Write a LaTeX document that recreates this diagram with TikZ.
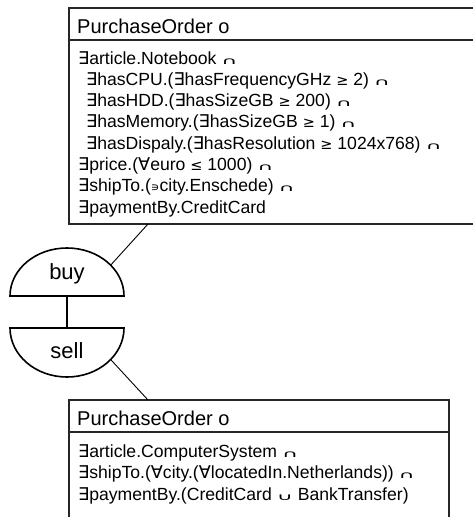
\documentclass[tikz,border=0pt]{standalone}
\usepackage{fontspec}
\usetikzlibrary{calc}
\setmainfont{Liberation Sans}
\newfontfamily\symf{DejaVu Sans}
\newcommand\myEx{{\symf ∃}}
\newcommand\myAll{{\symf ∀}}
\newcommand\myNi{{\symf\fontsize{12}{12}\selectfont ∍}}
\newcommand\myCap{\scalebox{1.25}[0.55]{\symf ∩}}
\newcommand\myCup{\scalebox{1.25}[0.55]{\symf ∪}}
\newcommand\myGe{{\symf\fontsize{14.5}{14.5}\selectfont ≥}}
\newcommand\myLe{{\symf\fontsize{14.5}{14.5}\selectfont ≤}}
\tikzset{
  boxline/.style={line width=1.3pt, black!85},
  shapeline/.style={line width=1.6pt},
  conn/.style={line width=0.9pt},
  head/.style={inner sep=0pt, anchor=base west, font=\fontsize{20}{24}\selectfont},
  body/.style={inner sep=0pt, anchor=base west, font=\fontsize{17.6}{21}\selectfont},
  lbl/.style={inner sep=0pt, anchor=base, font=\fontsize{22}{26}\selectfont},
}
\begin{document}
\begin{tikzpicture}[x=1pt,y=1pt]
\useasboundingbox (0,0) rectangle (473,-517);
\clip (0,0) rectangle (473,-517);
% top box
\draw[boxline] (69,-8) rectangle (490,-224);
\draw[boxline] (69,-40) -- (490,-40);
\node[head] (th) at (77,-33) {PurchaseOrder o};
\node[body] (t1) at (78,-64) {\myEx article.Notebook \myCap};
\node[body] (t2) at (86,-85.3) {\myEx hasCPU.(\myEx hasFrequencyGHz \myGe{} 2) \myCap};
\node[body] (t3) at (86,-106.6) {\myEx hasHDD.(\myEx hasSizeGB \myGe{} 200) \myCap};
\node[body] (t4) at (86,-127.9) {\myEx hasMemory.(\myEx hasSizeGB \myGe{} 1) \myCap};
\node[body] (t5) at (86,-149.2) {\myEx hasDispaly.(\myEx hasResolution \myGe{} 1024x768) \myCap};
\node[body] (t6) at (78,-170.5) {\myEx price.(\myAll euro \myLe{} 1000) \myCap};
\node[body] (t7) at (78,-191.8) {\myEx shipTo.(\myNi city.Enschede) \myCap};
\node[body] (t8) at (78,-213) {\myEx paymentBy.CreditCard};
\coordinate (topc) at (148,-224);
% bottom box
\draw[boxline] (69,-400) rectangle (449,-540);
\draw[boxline] (69,-432) -- (449,-432);
\node[head] (bh) at (77,-425) {PurchaseOrder o};
\node[body] (b1) at (78,-457) {\myEx article.ComputerSystem \myCap};
\node[body] (b2) at (78,-478.5) {\myEx shipTo.(\myAll city.(\myAll locatedIn.Netherlands)) \myCap};
\node[body] (b3) at (78,-500) {\myEx paymentBy.(CreditCard \myCup{} BankTransfer)};
\coordinate (botc) at (148,-400);
% buy / sell half ellipses
\draw[shapeline] (10,-296) arc[start angle=180, end angle=0, x radius=57, y radius=48] -- cycle;
\draw[shapeline] (10,-328) arc[start angle=180, end angle=360, x radius=57, y radius=49] -- cycle;
\node[lbl] (buy) at (67,-279) {buy};
\node[lbl] (sell) at (67,-358) {sell};
\coordinate (buyb) at (67,-296);
\coordinate (sellt) at (67,-328);
\coordinate (buyr) at ($(67,-296)+(40:57 and 48)$);
\coordinate (sellr) at ($(67,-328)+(-40:57 and 49)$);
\draw[shapeline] (buyb) -- (sellt);
\draw[conn] (buyr) -- (topc);
\draw[conn] (sellr) -- (botc);
\end{tikzpicture}
\end{document}
